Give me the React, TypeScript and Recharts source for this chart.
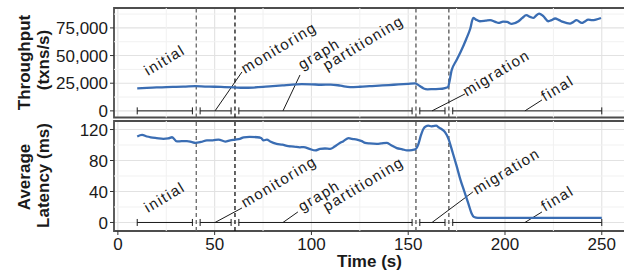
import {
  CartesianGrid,
  Line,
  LineChart,
  ReferenceArea,
  ReferenceDot,
  ReferenceLine,
  XAxis,
  YAxis,
} from "recharts";

const BLUE = "#3a6db3";
const INK = "#1a1a1a";
const FRAME = "#4d4d4d";
const MAJOR = "#e2e2e2";
const MINOR = "#f1f1f1";
const FONT = "'Liberation Sans', Arial, sans-serif";

const X_DOMAIN: [number, number] = [-2, 262];
const xTicks = [0, 50, 100, 150, 200, 250];
const xMinor = [25, 75, 125, 175, 225];

const TP_DOMAIN: [number, number] = [-6000, 93000];
const tpTicks = [0, 25000, 50000, 75000];
const tpMinor = [12500, 37500, 62500, 87500];

const LAT_DOMAIN: [number, number] = [-11, 131];
const latTicks = [0, 40, 80, 120];
const latMinor = [20, 60, 100];

// throughput (txns/s) over time (s)
const tpTime = [
  10, 15, 20, 25, 30, 35, 40, 45, 50, 55, 60, 65, 70, 75, 80, 85, 90, 95, 100,
  105, 110, 115, 120, 125, 130, 135, 140, 145, 150, 153.5, 156, 158, 160, 163,
  166, 169, 170.5, 172.5, 175, 177, 180, 182, 183.6, 185, 187, 190, 192.3, 195,
  196.6, 199, 201, 203.5, 207, 209, 211, 213, 214.6, 216, 217.6, 219.8, 222.4,
  224, 225.9, 228, 230, 233.6, 235, 237, 239.7, 241, 243, 245, 247, 249.6,
];
const tpValue = [
  20300, 20800, 21200, 21400, 21700, 22000, 22300, 22000, 21800, 21500, 21200,
  20900, 21100, 21600, 22300, 23000, 23800, 24200, 24000, 23600, 23800, 22800,
  21500, 21800, 22300, 22800, 23300, 23900, 24400, 24800, 22500, 20200, 19500,
  19700, 19800, 20600, 21500, 37000, 46000, 53000, 65000, 74000, 84000, 82500,
  81000, 81500, 82000, 80500, 79500, 80600, 80400, 78600, 81000, 84000, 86500,
  85000, 84000, 86000, 88000, 85600, 81000, 82000, 83500, 82000, 80400, 78900,
  80000, 82000, 79500, 80500, 82500, 82000, 82500, 84000,
];

// average latency (ms) over time (s)
const latTime = [
  10, 12.5, 15, 17, 20, 23.5, 26, 28, 30.5, 33, 35.7, 38, 40, 43, 46, 49, 52,
  55.5, 58, 60.7, 63, 65, 68, 72, 74, 75.3, 77, 78.7, 82, 85, 88, 91, 94, 96, 99,
  102, 104.5, 107, 109.7, 112, 114, 116.5, 119.2, 121, 123.5, 126, 127.8, 130,
  133.8, 136, 138.9, 141, 144.1, 147, 149.3, 152, 153.6, 155.3, 156.5, 157.9,
  159, 160.4, 162, 163, 164.5, 165.6, 167, 169, 170.8, 173, 175, 177, 179, 181,
  182.7, 184, 186, 200, 225, 250,
];
const latValue = [
  111, 113, 111, 110, 109, 108, 108.5, 110, 104.6, 105, 105, 104, 102.8, 104,
  106, 106, 107, 104.5, 106, 107, 108, 110, 110.5, 110, 109, 106, 107, 104.6,
  101.5, 100.5, 98.5, 98, 97, 97.3, 95, 93, 95, 95.5, 95, 98, 101.5, 105, 108.9,
  108, 107, 105, 102.8, 102, 101.5, 102, 102.8, 100, 96, 94.5, 93, 93.5, 94.3,
  101.5, 112, 121, 124, 125, 124, 124.4, 125, 123, 121, 116.6, 108, 90, 73, 55,
  40, 25, 12, 7, 6, 6, 6, 6,
];

// phases shown as brackets along y = 0
const phaseStart = [10, 42.5, 62.5, 156, 173];
const phaseEnd = [38.5, 58.5, 152, 169, 250];
const phaseBounds = [40.5, 60.5, 154, 171];
const boundColors = ["#666666", "#111111", "#555555", "#555555"];

const labelText = ["initial", "monitoring", "graph", "partitioning", "migration", "final"];
const tpLabelX = [15.6, 65.7, 95.1, 107.9, 180.2, 220.7];
const tpLabelY = [31550, 33360, 37000, 36340, 12840, 8320];
const latLabelX = [15.6, 65.7, 95.1, 107.9, 185.4, 220.7];
const latLabelY = [12.3, 18.7, 13.6, 13.6, 35.5, 13.9];

// leader lines: from the bracket up to the label
const leaderX1 = [50.2, 85.3, 162.3, 210.3];
const tpLeaderX2 = [64.1, 94.1, 179.3, 219.1];
const tpLeaderY2 = [35170, 32460, 15280, 9850];
const latLeaderX2 = [64.1, 93.0, 183.4, 219.1];
const latLeaderY2 = [18.7, 13.6, 39.4, 13.6];

const tpData = tpTime.map((t, i) => ({ t, v: tpValue[i] }));
const latData = latTime.map((t, i) => ({ t, v: latValue[i] }));

const Bracket = (p: any) => (
  <g>
    <line x1={p.x1} y1={p.y1} x2={p.x2} y2={p.y2} stroke={INK} strokeWidth={1} />
    <line x1={p.x1} y1={p.y1 - 3.5} x2={p.x1} y2={p.y1 + 3.5} stroke={INK} strokeWidth={1} />
    <line x1={p.x2} y1={p.y2 - 3.5} x2={p.x2} y2={p.y2 + 3.5} stroke={INK} strokeWidth={1} />
  </g>
);

const slanted = (text: string) => (p: any) => (
  <text
    x={p.cx}
    y={p.cy}
    transform={`rotate(-31 ${p.cx} ${p.cy})`}
    fontSize={15}
    letterSpacing={1.5}
    fill={INK}
    fontFamily={FONT}
  >
    {text}
  </text>
);

const axisTitle = (first: string, second: string, cy1: number, cy2: number) => () => (
  <g fontFamily={FONT} fontSize={17} fontWeight="bold" fill={INK}>
    <text x={30} y={cy1} textAnchor="middle" transform={`rotate(-90 30 ${cy1})`}>
      {first}
    </text>
    <text x={48.5} y={cy2} textAnchor="middle" transform={`rotate(-90 48.5 ${cy2})`}>
      {second}
    </text>
  </g>
);

function Decorations(
  yDomain: [number, number],
  minorY: number[],
  labelX: number[],
  labelY: number[],
  leaderX2: number[],
  leaderY2: number[],
) {
  return [
    ...xMinor.map((x) => (
      <ReferenceLine key={`mx${x}`} x={x} stroke={MINOR} strokeWidth={1} />
    )),
    ...minorY.map((y) => (
      <ReferenceLine key={`my${y}`} y={y} stroke={MINOR} strokeWidth={1} />
    )),
    ...phaseBounds.map((x, i) => (
      <ReferenceLine
        key={`b${x}`}
        x={x}
        stroke={boundColors[i]}
        strokeWidth={1.3}
        strokeDasharray="4 3"
      />
    )),
    ...phaseStart.map((s, i) => (
      <ReferenceLine
        key={`p${i}`}
        segment={[
          { x: s, y: 0 },
          { x: phaseEnd[i], y: 0 },
        ]}
        shape={Bracket}
      />
    )),
    ...leaderX1.map((x, i) => (
      <ReferenceLine
        key={`l${i}`}
        segment={[
          { x, y: 0 },
          { x: leaderX2[i], y: leaderY2[i] },
        ]}
        stroke={INK}
        strokeWidth={1}
      />
    )),
    ...labelText.map((txt, i) => (
      <ReferenceDot
        key={`t${i}`}
        x={labelX[i]}
        y={labelY[i]}
        r={0}
        shape={slanted(txt)}
      />
    )),
    <ReferenceArea
      key="frame"
      x1={X_DOMAIN[0]}
      x2={X_DOMAIN[1]}
      y1={yDomain[0]}
      y2={yDomain[1]}
      fill="none"
      stroke={FRAME}
      strokeWidth={1.8}
      ifOverflow="visible"
    />,
  ];
}

export default function App() {
  return (
    <div
      style={{
        position: "absolute",
        left: 0,
        top: 0,
        width: 624,
        height: 273,
        overflow: "hidden",
        background: "#fff",
        fontFamily: FONT,
      }}
    >
      <div style={{ position: "absolute", left: 0, top: 0 }}>
        <LineChart
          width={626}
          height={120}
          data={tpData}
          margin={{ top: 8, right: 1, bottom: 2.5, left: 0 }}
        >
          <CartesianGrid stroke={MAJOR} strokeWidth={1.1} />
          <XAxis
            type="number"
            dataKey="t"
            domain={X_DOMAIN}
            ticks={xTicks}
            allowDataOverflow
            hide
          />
          <YAxis
            type="number"
            domain={TP_DOMAIN}
            ticks={tpTicks}
            interval={0}
            allowDataOverflow
            width={114}
            axisLine={false}
            tickLine={{ stroke: "#333" }}
            tickSize={4}
            tickMargin={2}
            tick={{ fill: INK, fontSize: 17 }}
            tickFormatter={(v: number) => v.toLocaleString("en-US")}
            label={axisTitle("Throughput", "(txns/s)", 62.5, 60)}
          />
          {Decorations(TP_DOMAIN, tpMinor, tpLabelX, tpLabelY, tpLeaderX2, tpLeaderY2)}
          <Line
            type="monotone"
            dataKey="v"
            stroke={BLUE}
            strokeWidth={2.3}
            dot={false}
            isAnimationActive={false}
          />
        </LineChart>
      </div>
      <div style={{ position: "absolute", left: 0, top: 120 }}>
        <LineChart
          width={626}
          height={153}
          data={latData}
          margin={{ top: 1, right: 1, bottom: 0, left: 0 }}
        >
          <CartesianGrid stroke={MAJOR} strokeWidth={1.1} />
          <XAxis
            type="number"
            dataKey="t"
            domain={X_DOMAIN}
            ticks={xTicks}
            interval={0}
            allowDataOverflow
            height={42}
            axisLine={false}
            tickLine={{ stroke: "#333" }}
            tickSize={4}
            tickMargin={3}
            tick={{ fill: INK, fontSize: 17 }}
            label={{
              value: "Time (s)",
              position: "insideBottom",
              offset: 6.5,
              fill: INK,
              fontSize: 17,
              fontWeight: "bold",
            }}
          />
          <YAxis
            type="number"
            domain={LAT_DOMAIN}
            ticks={latTicks}
            interval={0}
            allowDataOverflow
            width={114}
            axisLine={false}
            tickLine={{ stroke: "#333" }}
            tickSize={4}
            tickMargin={2}
            tick={{ fill: INK, fontSize: 17 }}
            label={axisTitle("Average", "Latency (ms)", 57, 55.5)}
          />
          {Decorations(LAT_DOMAIN, latMinor, latLabelX, latLabelY, latLeaderX2, latLeaderY2)}
          <Line
            type="monotone"
            dataKey="v"
            stroke={BLUE}
            strokeWidth={2.3}
            dot={false}
            isAnimationActive={false}
          />
        </LineChart>
      </div>
    </div>
  );
}
